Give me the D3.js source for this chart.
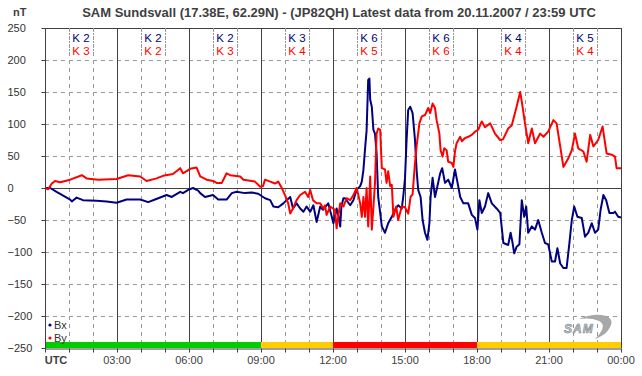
<!DOCTYPE html>
<html>
<head>
<meta charset="utf-8">
<script src="https://cdn.jsdelivr.net/npm/d3@7"></script>
<style>
  body { margin: 0; background: #fff; }
  svg { display: block; font-family: "Liberation Sans", Arial, sans-serif; }
</style>
</head>
<body>
<svg id="chart" width="642" height="376"></svg>
<script>

// Minutes since 00:00 UTC and values in nT
var bxTime = [0, 13, 29, 63, 67, 79, 95, 129, 154, 179, 204, 238, 258, 275, 304, 317, 338, 345, 358, 370,
    383, 388, 400, 420, 433, 454, 467, 479, 500, 517, 533, 550, 563, 571, 583, 596, 604, 613, 620, 629,
    638, 646, 654, 663, 671, 679, 684, 688, 695, 704, 708, 717, 721, 729, 734, 738, 741, 746, 750, 763,
    771, 779, 788, 792, 796, 800, 804, 808, 811, 813, 817, 821, 825, 829, 833, 838, 842, 850, 858, 867,
    875, 883, 892, 896, 900, 904, 908, 913, 919, 925, 929, 933, 939, 944, 950, 956, 961, 964, 969, 975,
    979, 988, 993, 1000, 1008, 1017, 1025, 1033, 1038, 1046, 1058, 1067, 1075, 1081, 1086, 1092, 1100, 1108, 1117, 1129,
    1138, 1146, 1158, 1164, 1169, 1173, 1179, 1186, 1192, 1198, 1203, 1208, 1217, 1225, 1233, 1242, 1250, 1258, 1267, 1275,
    1281, 1288, 1296, 1304, 1311, 1317, 1323, 1331, 1342, 1350, 1358, 1367, 1375, 1383, 1389, 1396, 1403, 1411, 1421, 1425,
    1433, 1440];
var bxVal = [0, 0, -6, -18, -21, -15, -19, -20, -21, -23, -18, -18, -22, -18, -11, -14, -6, -8, -3, 0,
    -4, -8, -14, -11, -18, -18, -8, -6, -8, -7, -9, -16, -19, -29, -30, -24, -19, -14, -32, -24,
    -32, -37, -29, -37, -27, -53, -40, -29, -34, -27, -24, -45, -55, -32, -45, -60, -29, -16, -16, -27,
    -19, -3, 3, 10, 28, 60, 90, 169, 171, 138, 127, 91, 85, 54, -14, -39, -60, -70, -55, -45,
    -34, -27, -32, -11, 15, 75, 122, 127, 117, 75, 28, -3, -14, -50, -70, -81, -55, -14, 16, -14,
    -3, 23, 31, 8, 13, 0, 29, 3, -14, -24, -24, -42, -47, -65, -19, -39, -29, -8, -24, -32,
    -39, -86, -89, -70, -86, -102, -92, -88, -19, -45, -29, -70, -60, -65, -50, -70, -86, -88, -115, -115,
    -94, -118, -125, -125, -86, -50, -29, -45, -47, -76, -70, -55, -70, -65, -34, -11, -19, -39, -39, -37,
    -45, -46];

var byTime = [0, 8, 17, 25, 38, 63, 92, 104, 133, 179, 208, 238, 254, 279, 295, 320, 338, 345, 363, 379,
    388, 404, 420, 429, 442, 454, 463, 488, 496, 525, 538, 545, 550, 563, 575, 583, 592, 600, 608, 613,
    620, 629, 638, 650, 658, 663, 670, 679, 688, 696, 700, 704, 713, 720, 725, 729, 733, 738, 746, 754,
    763, 771, 779, 783, 788, 792, 796, 800, 804, 808, 813, 817, 821, 825, 829, 833, 838, 842, 850, 854,
    858, 863, 867, 871, 878, 883, 892, 900, 908, 914, 919, 923, 925, 929, 936, 942, 950, 958, 963, 969,
    975, 979, 986, 989, 994, 998, 1004, 1008, 1017, 1021, 1025, 1029, 1038, 1042, 1050, 1058, 1067, 1075, 1083, 1092,
    1100, 1113, 1125, 1138, 1145, 1158, 1167, 1179, 1188, 1192, 1200, 1208, 1217, 1225, 1238, 1246, 1258, 1271, 1279, 1288,
    1296, 1308, 1317, 1325, 1333, 1346, 1354, 1363, 1371, 1383, 1394, 1404, 1417, 1425, 1429, 1440];
var byVal = [0, -2, 7, 11, 9, 13, 20, 15, 13, 14, 20, 18, 11, 15, 19, 22, 31, 23, 30, 32,
    18, 13, 11, 8, 8, 23, 20, 18, 13, 10, 2, 3, 13, 10, 7, 10, 0, -11, -24, -40,
    -32, -19, -11, -6, -14, -3, -19, -24, -24, -32, -27, -42, -29, -32, -34, -63, -45, -24, -29, -16,
    -19, -11, 0, -10, -24, -45, -14, -45, 0, -60, 18, -65, -30, 8, 85, 93, 91, 31, 29, 8,
    26, 3, 5, -45, -29, -50, -29, -30, -40, -14, -10, 23, 39, 65, 101, 112, 114, 125, 117, 132,
    125, 106, 85, 59, 49, 62, 59, 41, 39, 33, 57, 70, 80, 73, 78, 80, 83, 88, 91, 104,
    95, 101, 85, 75, 76, 93, 98, 127, 150, 135, 101, 70, 93, 70, 85, 80, 88, 106, 101, 65,
    33, 46, 59, 85, 62, 57, 41, 83, 65, 75, 96, 54, 52, 49, 31, 31];

// K indices per 3-hour block
var kBx = [2, 2, 2, 3, 6, 6, 4, 5];
var kBy = [3, 2, 3, 4, 5, 6, 4, 4];
var barColors = ["#00cc00", "#00cc00", "#00cc00", "#ffcc00", "#ff0000", "#ff0000", "#ffcc00", "#ffcc00"];

var xLabels = ["UTC", "03:00", "06:00", "09:00", "12:00", "15:00", "18:00", "21:00", "00:00"];
var yTicks = [-250, -200, -150, -100, -50, 0, 50, 100, 150, 200, 250];

var plotL = 45, plotR = 621, plotT = 28, plotB = 348;

var svg = d3.select("#chart");

var x = d3.scaleLinear().domain([0, 1440]).range([plotL, plotR]);
var y = d3.scaleLinear().domain([-250, 250]).range([plotB, plotT]);

// title
svg.append("text")
    .attr("x", 339).attr("y", 17)
    .attr("text-anchor", "middle")
    .attr("font-size", 13).attr("font-weight", "bold")
    .attr("fill", "#404040")
    .text("SAM Sundsvall (17.38E, 62.29N) - (JP82QH) Latest data from 20.11.2007 / 23:59 UTC");

svg.append("text")
    .attr("x", 13).attr("y", 16)
    .attr("font-size", 11).attr("font-weight", "bold")
    .attr("fill", "#404040")
    .text("nT");

// grid - horizontal
svg.append("g").selectAll("line")
    .data(yTicks.filter(function (d) { return d != 0 && d != -250; }))
    .enter().append("line")
    .attr("x1", plotL).attr("x2", plotR)
    .attr("y1", function (d) { return y(d) + 0.5; })
    .attr("y2", function (d) { return y(d) + 0.5; })
    .attr("stroke-dasharray", function (d) { return d == 250 ? null : "4,4"; })
    .attr("stroke", function (d) { return d == 250 ? "#404040" : "#999"; });

// grid - vertical, hourly dashed and 3-hourly solid
var hours = d3.range(60, 1440, 60);
svg.append("g").selectAll("line")
    .data(hours)
    .enter().append("line")
    .attr("x1", function (d) { return Math.round(x(d)) + 0.5; })
    .attr("x2", function (d) { return Math.round(x(d)) + 0.5; })
    .attr("y1", plotT).attr("y2", plotB)
    .attr("stroke", function (d) { return d % 180 == 0 ? "#404040" : "#999"; })
    .attr("stroke-dasharray", function (d) { return d % 180 == 0 ? null : "4,4"; });

// right border
svg.append("line")
    .attr("x1", plotR + 0.5).attr("x2", plotR + 0.5)
    .attr("y1", plotT).attr("y2", plotB)
    .attr("stroke", "#404040");

// zero line
svg.append("line")
    .attr("x1", plotL).attr("x2", plotR)
    .attr("y1", y(0) + 0.5).attr("y2", y(0) + 0.5)
    .attr("stroke", "#404040");

// K index labels
var kg = svg.append("g").attr("font-size", 11.5);
d3.range(8).forEach(function (i) {
    var cx = x(i * 180 + 90);
    [cx - 12, cx + 12].forEach(function (lx) {
        kg.append("line")
            .attr("x1", Math.round(lx) + 0.5).attr("x2", Math.round(lx) + 0.5)
            .attr("y1", plotT + 1).attr("y2", 57)
            .attr("stroke", "#999").attr("stroke-dasharray", "2,2");
    });
    kg.append("text").attr("x", cx).attr("y", 42).attr("text-anchor", "middle")
        .attr("fill", "#000080").text("K " + kBx[i]);
    kg.append("text").attr("x", cx).attr("y", 54.5).attr("text-anchor", "middle")
        .attr("fill", "#ff0000").text("K " + kBy[i]);
});

// data lines
var bx = bxTime.map(function (t, i) { return [t, bxVal[i]]; });
var by = byTime.map(function (t, i) { return [t, byVal[i]]; });

var line = d3.line()
    .x(function (d) { return x(d[0]); })
    .y(function (d) { return y(d[1]); });

svg.append("path").datum(bx)
    .attr("d", line)
    .attr("fill", "none").attr("stroke", "#000080").attr("stroke-width", 2)
    .attr("stroke-linejoin", "round");

svg.append("path").datum(by)
    .attr("d", line)
    .attr("fill", "none").attr("stroke", "#ff0000").attr("stroke-width", 2)
    .attr("stroke-linejoin", "round");

// activity bar
svg.append("g").selectAll("rect")
    .data(barColors)
    .enter().append("rect")
    .attr("x", function (d, i) { return x(i * 180); })
    .attr("width", function (d, i) { return x((i + 1) * 180) - x(i * 180); })
    .attr("y", plotB - 6).attr("height", 6)
    .attr("fill", function (d) { return d; });

// axes
var xAxis = d3.axisBottom(x)
    .tickValues(d3.range(0, 1441, 60))
    .tickSize(4).tickSizeOuter(0)
    .tickFormat("");

svg.append("g")
    .attr("transform", "translate(0," + (plotB + 0.5) + ")")
    .call(xAxis)
    .call(function (g) {
        g.selectAll("path, line").attr("stroke", "#404040");
    });

svg.append("g").selectAll("text")
    .data(xLabels)
    .enter().append("text")
    .attr("x", function (d, i) { return i == 0 ? plotL + 11 : x(i * 180); })
    .attr("y", 364)
    .attr("text-anchor", "middle")
    .attr("font-size", 11)
    .attr("font-weight", function (d, i) { return i == 0 ? "bold" : "normal"; })
    .attr("fill", "#404040")
    .text(function (d) { return d; });

var yAxis = d3.axisLeft(y)
    .tickValues(yTicks)
    .tickSize(4).tickSizeOuter(0);

svg.append("g")
    .attr("transform", "translate(" + (plotL + 0.5) + ",0)")
    .call(yAxis)
    .call(function (g) {
        g.selectAll("path, line").attr("stroke", "#404040");
        g.select(".domain").attr("d", "M0," + plotT + "V" + (plotB + 4));
        g.selectAll("text")
            .attr("x", -38).attr("text-anchor", "start")
            .attr("font-size", 11).attr("fill", "#333")
            .attr("font-family", "Liberation Sans, Arial, sans-serif");
    });

// legend
var legend = [["Bx", "#000080", 325], ["By", "#ff0000", 338]];
legend.forEach(function (d) {
    svg.append("circle").attr("cx", 50).attr("cy", d[2]).attr("r", 1.6).attr("fill", d[1]);
    svg.append("text").attr("x", 54).attr("y", d[2] + 4)
        .attr("font-size", 11).attr("fill", "#333").text(d[0]);
});

// SAM logo
var logo = svg.append("g").attr("transform", "translate(563,313)");
logo.append("path")
    .attr("d", "M16,6 C34,-2 52,2 48,12 C45,20 38,24 32,26 C38,20 44,12 36,8 C30,5 22,5 16,6 Z")
    .attr("fill", "#a8a8a8");
logo.append("text")
    .attr("x", 1).attr("y", 20)
    .attr("font-size", 12).attr("font-style", "italic").attr("font-weight", "bold")
    .attr("letter-spacing", 1)
    .attr("fill", "#c8ccd0").attr("stroke", "#7a8590").attr("stroke-width", 0.6)
    .text("SAM");

</script>
</body>
</html>
